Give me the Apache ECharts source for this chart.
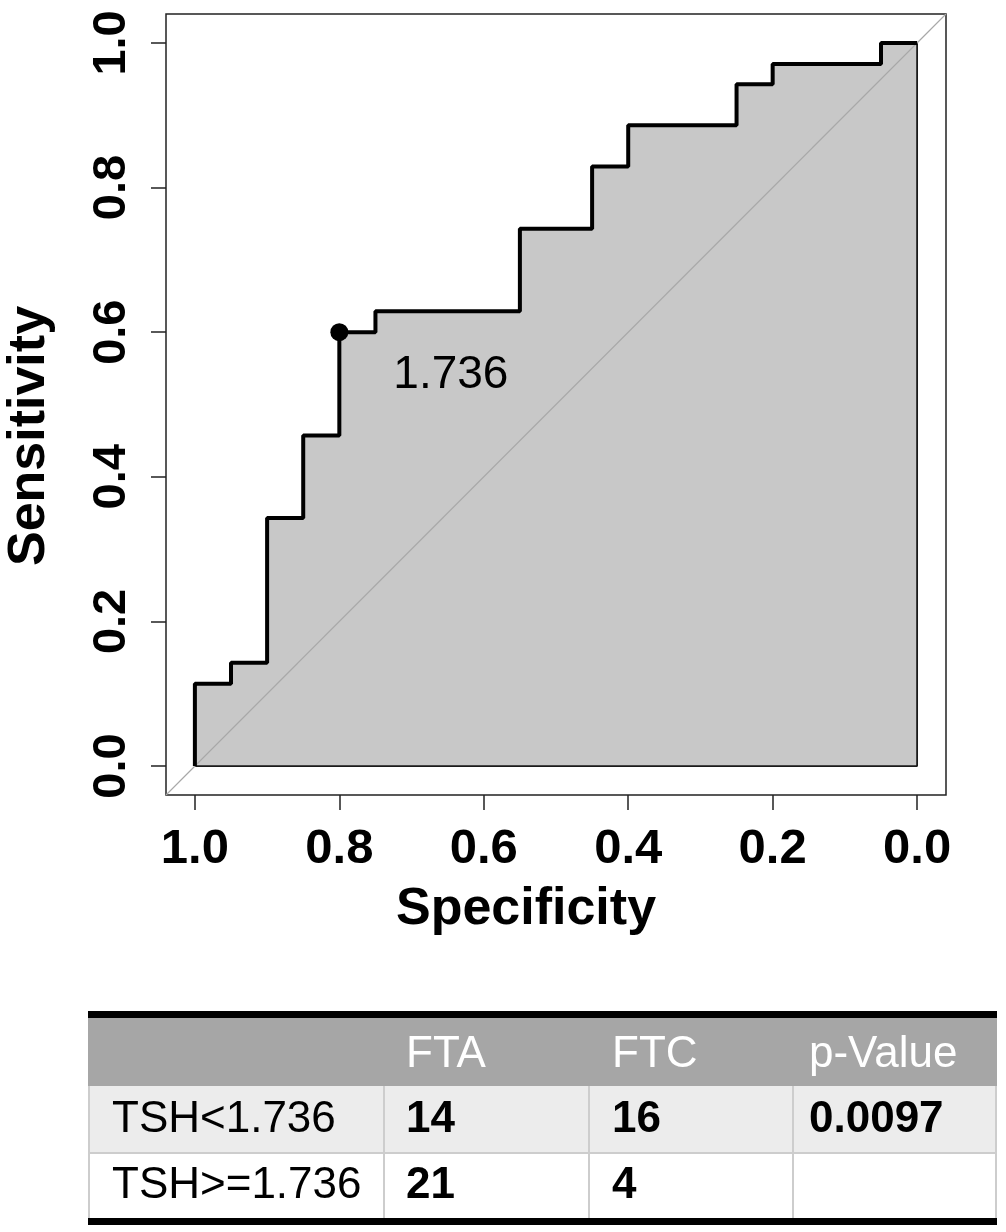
<!DOCTYPE html>
<html><head><meta charset="utf-8">
<script src="https://cdn.jsdelivr.net/npm/echarts@6/dist/echarts.min.js"></script>
<style>html,body{margin:0;padding:0;background:#fff}#chart{width:1006px;height:1232px}</style>
</head><body><div id="chart"></div>
<script>
// ROC curve vertices (specificity, sensitivity)
const specificity = [1.00,1.00,0.95,0.95,0.90,0.90,0.85,0.85,0.80,0.80,0.75,0.75,0.55,0.55,0.45,0.45,0.40,0.40,0.25,0.25,0.20,0.20,0.05,0.05,0.00];
const sensitivity = [0.000,0.114,0.114,0.143,0.143,0.343,0.343,0.457,0.457,0.600,0.600,0.629,0.629,0.743,0.743,0.829,0.829,0.886,0.886,0.943,0.943,0.971,0.971,1.000,1.000];
const thresholdLabel = '1.736';
const thresholdSpec = 0.80;
const thresholdSens = 0.60;
const aucLabel = 'AUC: 0.700';
const tickValues = [0, 0.2, 0.4, 0.6, 0.8, 1.0];
const xTitle = 'Specificity';
const yTitle = 'Sensitivity';
// table
const tableHeader = ['', 'FTA', 'FTC', 'p-Value'];
const rowLabels = ['TSH<1.736', 'TSH>=1.736'];
const ftaCounts = ['14', '21'];
const ftcCounts = ['16', '4'];
const pValues = ['0.0097', ''];

const FONT = '"Liberation Sans", Arial, Helvetica, sans-serif';
const rocData = specificity.map((s, i) => [s, sensitivity[i]]);
const last = rocData.length - 1;
const borderData = [rocData[last], [rocData[last][0], 0], [rocData[0][0], 0]];

const chart = echarts.init(document.getElementById('chart'), null, {renderer: 'canvas'});

// table graphics
const tbl = {left: 88, right: 997, textX: [112, 406, 612, 809]};
const g = [];
g.push({type:'rect', shape:{x:tbl.left, y:1018, width:tbl.right-tbl.left, height:68}, style:{fill:'#a6a6a6'}});
g.push({type:'rect', shape:{x:tbl.left, y:1086, width:tbl.right-tbl.left, height:66}, style:{fill:'#ececec'}});
g.push({type:'rect', shape:{x:tbl.left, y:1152, width:tbl.right-tbl.left, height:2}, style:{fill:'#cdcdcd'}});
g.push({type:'rect', shape:{x:tbl.left, y:1154, width:tbl.right-tbl.left, height:64}, style:{fill:'#ffffff'}});
[tbl.left, 383, 588, 792, tbl.right-2].forEach(x => {
  g.push({type:'rect', shape:{x:x, y:1086, width:2, height:132}, style:{fill:'#cdcdcd'}});
});
g.push({type:'rect', shape:{x:tbl.left, y:1011, width:tbl.right-tbl.left, height:7}, style:{fill:'#000'}});
g.push({type:'rect', shape:{x:tbl.left, y:1218, width:tbl.right-tbl.left, height:7}, style:{fill:'#000'}});
function txt(text, x, y, opts) {
  return Object.assign({type:'text', x:x, y:y, style:Object.assign({
    text:text, fontFamily:FONT, fontSize:44, fontWeight:'normal', fill:'#000',
    align:'left', verticalAlign:'middle', textAlign:'left', textVerticalAlign:'middle'
  }, opts && opts.style)}, opts && opts.el);
}
tableHeader.forEach((h, i) => { if (h) g.push(txt(h, tbl.textX[i], 1055, {style:{fill:'#ffffff'}})); });
const rowY = [1120, 1186];
rowLabels.forEach((r, i) => {
  g.push(txt(r, tbl.textX[0], rowY[i]));
  g.push(txt(ftaCounts[i], tbl.textX[1], rowY[i], {style:{fontWeight:'bold'}}));
  g.push(txt(ftcCounts[i], tbl.textX[2], rowY[i], {style:{fontWeight:'bold'}}));
  if (pValues[i]) g.push(txt(pValues[i], tbl.textX[3], rowY[i], {style:{fontWeight:'bold'}}));
});
// axis titles and AUC
g.push(txt(xTitle, 526, 910, {style:{fontSize:52, fontWeight:'bold', align:'center', textAlign:'center'}}));
g.push(txt(yTitle, 30, 436, {style:{fontSize:52, fontWeight:'bold', align:'center', textAlign:'center'}, el:{rotation:Math.PI/2}}));
g.push(txt(aucLabel, 545, 457, {style:{fontSize:46}}));

const option = {
  animation: false,
  backgroundColor: '#fff',
  grid: {left:166, top:14, width:780, height:781, show:true, borderColor:'#222', borderWidth:1.5, backgroundColor:'transparent'},
  xAxis: {
    type:'value', inverse:true, min:-0.04, max:1.04, position:'bottom',
    axisLine:{show:false, onZero:false}, splitLine:{show:false},
    axisTick:{show:true, customValues:tickValues, length:15, inside:false, lineStyle:{color:'#222', width:1.5}},
    axisLabel:{show:true, customValues:tickValues, formatter:v => v.toFixed(1), margin:30,
      fontFamily:FONT, fontSize:49, fontWeight:'bold', color:'#000'}
  },
  yAxis: {
    type:'value', min:-0.04, max:1.04, position:'left',
    axisLine:{show:false, onZero:false}, splitLine:{show:false},
    axisTick:{show:true, customValues:tickValues, length:15, inside:false, lineStyle:{color:'#222', width:1.5}},
    axisLabel:{show:true, customValues:tickValues, formatter:v => v.toFixed(1), rotate:90, margin:30,
      fontFamily:FONT, fontSize:47, fontWeight:'bold', color:'#000'}
  },
  series: [
    {type:'line', data:rocData, showSymbol:false, lineStyle:{width:0}, areaStyle:{color:'#c8c8c8', opacity:1, origin:0}, z:1},
    {type:'line', data:borderData, showSymbol:false, lineStyle:{color:'#1a1a1a', width:1.8}, z:2},
    {type:'line', data:[[1.04,-0.04],[-0.04,1.04]], showSymbol:false, lineStyle:{color:'#a8a8a8', width:1.1}, z:3},
    {type:'line', data:rocData, showSymbol:false, lineStyle:{color:'#000', width:4}, z:4},
    {type:'scatter', data:[[thresholdSpec, thresholdSens]], symbol:'circle', symbolSize:18, itemStyle:{color:'#000', opacity:1}, z:5,
      label:{show:true, formatter:thresholdLabel, position:[63, 52], align:'left', verticalAlign:'middle',
        fontFamily:FONT, fontSize:46, color:'#000', opacity:1}}
  ],
  graphic: g
};
chart.setOption(option);
</script></body></html>
